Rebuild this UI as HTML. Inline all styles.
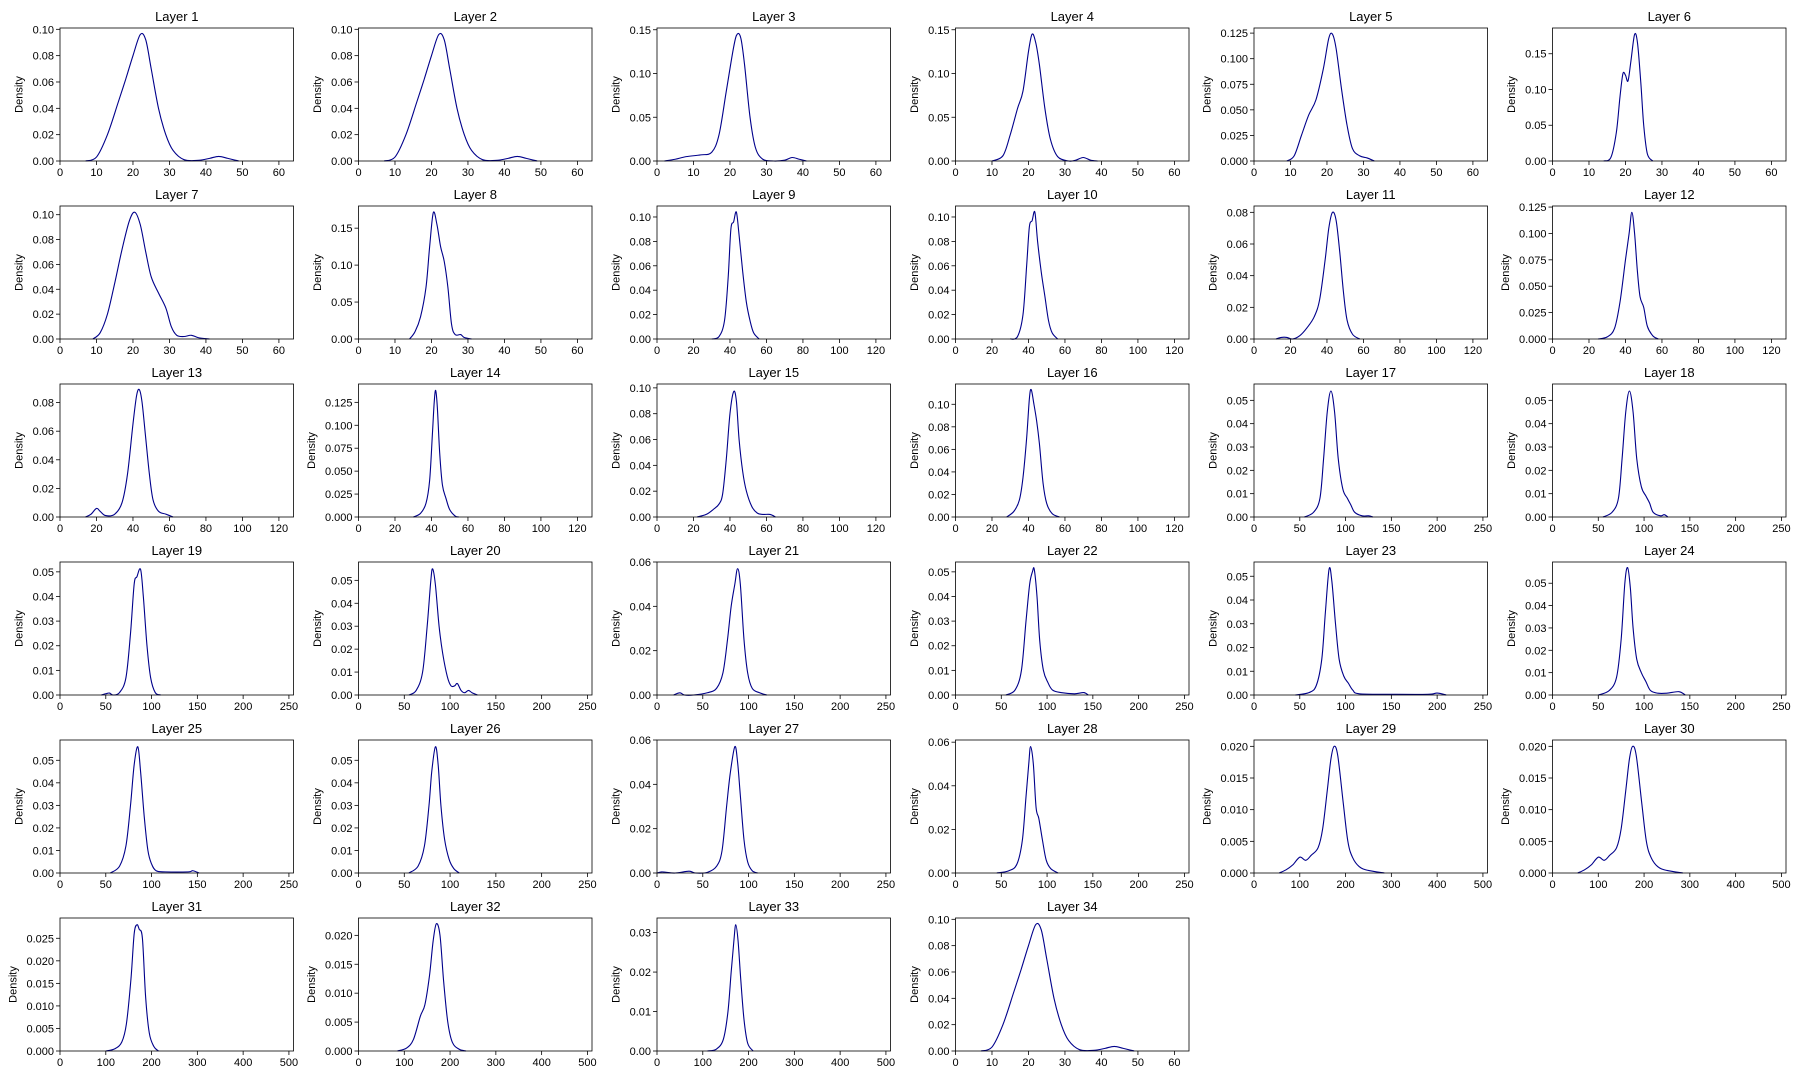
<!DOCTYPE html>
<html><head><meta charset="utf-8">
<style>
html,body{margin:0;padding:0;background:#fff;}
svg{display:block;font-family:"Liberation Sans",sans-serif;}
</style></head>
<body>
<svg id="chart" width="1800" height="1080" viewBox="0 0 1800 1080" xmlns="http://www.w3.org/2000/svg"></svg>
<script>
// ---- data: per-layer KDE curves (x value, density) ----
const layerTitles = ["Layer 1","Layer 2","Layer 3","Layer 4","Layer 5","Layer 6","Layer 7","Layer 8","Layer 9","Layer 10","Layer 11","Layer 12","Layer 13","Layer 14","Layer 15","Layer 16","Layer 17","Layer 18","Layer 19","Layer 20","Layer 21","Layer 22","Layer 23","Layer 24","Layer 25","Layer 26","Layer 27","Layer 28","Layer 29","Layer 30","Layer 31","Layer 32","Layer 33","Layer 34"];
const xMaxes = [64,64,64,64,64,64,64,64,128,128,128,128,128,128,128,128,255,255,255,255,255,255,255,255,255,255,255,255,510,510,510,510,510,64];
const xTickSteps = [10,10,10,10,10,10,10,10,20,20,20,20,20,20,20,20,50,50,50,50,50,50,50,50,50,50,50,50,100,100,100,100,100,10];
const yMaxes = [0.101,0.101,0.152,0.152,0.13,0.186,0.107,0.18,0.109,0.109,0.084,0.126,0.093,0.145,0.103,0.118,0.057,0.057,0.054,0.058,0.06,0.054,0.056,0.0595,0.059,0.059,0.06,0.061,0.021,0.021,0.0295,0.023,0.0337,0.101];
const yTickSteps = [0.02,0.02,0.05,0.05,0.025,0.05,0.02,0.05,0.02,0.02,0.02,0.025,0.02,0.025,0.02,0.02,0.01,0.01,0.01,0.01,0.02,0.01,0.01,0.01,0.01,0.01,0.02,0.02,0.005,0.005,0.005,0.005,0.01,0.02];
const yTickDecimals = [2,2,2,2,3,2,2,2,2,2,2,3,2,3,2,2,2,2,2,2,2,2,2,2,2,2,2,2,3,3,3,3,2,2];
const curveL1 = [[7,0],[10,0.003],[13,0.02],[16,0.045],[18,0.062],[20,0.08],[22,0.096],[23.5,0.092],[25,0.07],[27,0.04],[29,0.02],[31,0.008],[34,0.001],[38,0.0005],[41,0.002],[43.5,0.0035],[46,0.002],[49,0]];
const curveL3 = [[2,0],[5,0.002],[8,0.005],[12,0.007],[15,0.01],[17,0.03],[19,0.08],[21,0.13],[22,0.145],[23,0.14],[24,0.11],[25.5,0.05],[27,0.015],[29,0.002],[32,0],[35,0.001],[37,0.004],[39,0.002],[41,0]];
const curveL4 = [[10,0],[13,0.006],[15,0.03],[17,0.06],[18.5,0.08],[20,0.125],[21,0.145],[22,0.135],[23,0.11],[24.5,0.06],[26,0.025],[28,0.005],[31,0],[33,0.001],[35,0.004],[37,0.001],[39,0]];
const curveL5 = [[9,0],[11,0.005],[13,0.025],[15,0.045],[17,0.06],[19,0.09],[20.5,0.12],[21.5,0.124],[22.5,0.11],[24,0.07],[25.5,0.035],[27,0.012],[29,0.005],[31,0.003],[33,0]];
const curveL6 = [[14,0],[16,0.005],[17.5,0.04],[18.5,0.09],[19.3,0.122],[20,0.12],[20.7,0.112],[21.5,0.14],[22.5,0.177],[23.3,0.165],[24.2,0.11],[25,0.05],[26,0.01],[27.5,0]];
const curveL7 = [[9,0],[11,0.005],[13,0.02],[15,0.045],[17,0.072],[19,0.095],[20.5,0.102],[22,0.092],[23.5,0.07],[25,0.05],[27,0.037],[29,0.025],[30.5,0.01],[32,0.003],[34,0.002],[36,0.003],[38,0.001],[41,0]];
const curveL8 = [[14,0],[15.5,0.01],[17,0.03],[18.5,0.07],[19.5,0.125],[20.5,0.171],[21.5,0.155],[22.5,0.125],[23.5,0.105],[24.5,0.07],[25.5,0.02],[26.5,0.006],[28,0.006],[29,0.002],[31,0]];
const curveL9 = [[30,0],[34,0.002],[37,0.015],[39,0.05],[40.5,0.09],[42,0.096],[43.5,0.104],[45,0.085],[47,0.055],[49,0.03],[51,0.015],[53,0.005],[56,0]];
const curveL10 = [[30,0],[34,0.002],[37,0.02],[39,0.06],[40.5,0.092],[42,0.097],[43.5,0.104],[45,0.08],[47,0.055],[49,0.035],[51,0.015],[53,0.005],[56,0]];
const curveL11 = [[12,0],[15,0.001],[18,0.001],[21,0],[25,0.002],[29,0.007],[33,0.014],[36,0.025],[39,0.05],[41,0.07],[43,0.08],[45,0.075],[47,0.055],[49,0.03],[51,0.012],[54,0.003],[58,0]];
const curveL12 = [[25,0],[30,0.002],[34,0.01],[37,0.035],[40,0.075],[42,0.1],[43.5,0.12],[45,0.1],[46.5,0.065],[48,0.04],[50,0.03],[52,0.012],[55,0.003],[58,0]];
const curveL13 = [[14,0],[17,0.002],[20,0.006],[22,0.004],[25,0.001],[30,0.002],[34,0.01],[37,0.03],[40,0.065],[42,0.085],[43.5,0.089],[45,0.08],[47,0.055],[49,0.03],[51,0.012],[54,0.004],[58,0.002],[62,0]];
const curveL14 = [[30,0],[34,0.004],[37,0.015],[39,0.04],[40.5,0.09],[41.5,0.125],[42.3,0.138],[43.2,0.12],[44.5,0.07],[46,0.035],[48,0.02],[50,0.008],[53,0.001],[55,0]];
const curveL15 = [[22,0],[27,0.002],[31,0.006],[34,0.01],[36,0.018],[38,0.045],[40,0.08],[42,0.097],[43.5,0.09],[45,0.06],[47,0.035],[49,0.02],[52,0.008],[55,0.003],[58,0.002],[62,0.002],[65,0]];
const curveL16 = [[28,0],[32,0.005],[35,0.015],[37,0.035],[39,0.07],[40.5,0.105],[41.5,0.113],[43,0.1],[44.5,0.085],[46,0.065],[48,0.03],[50,0.012],[53,0.003],[57,0]];
const curveL17 = [[55,0],[65,0.002],[72,0.008],[76,0.025],[80,0.045],[84,0.054],[88,0.045],[92,0.025],[97,0.012],[102,0.008],[106,0.005],[110,0.002],[118,0.0005],[125,0.0005],[130,0]];
const curveL18 = [[55,0],[65,0.002],[72,0.008],[76,0.025],[80,0.045],[84,0.054],[88,0.045],[92,0.025],[97,0.013],[102,0.009],[106,0.006],[110,0.002],[118,0.0005],[122,0.001],[126,0]];
const curveL19 = [[45,0],[50,0.0005],[54,0.0008],[58,0],[65,0.001],[72,0.007],[77,0.025],[81,0.045],[84,0.048],[88,0.051],[91,0.04],[95,0.02],[99,0.007],[104,0.001],[110,0]];
const curveL20 = [[55,0],[63,0.002],[70,0.01],[75,0.03],[79,0.05],[81,0.055],[84,0.048],[88,0.03],[92,0.018],[97,0.008],[101,0.004],[105,0.004],[108,0.005],[112,0.002],[116,0.001],[120,0.002],[124,0.001],[130,0]];
const curveL21 = [[18,0],[25,0.001],[30,0],[40,0],[55,0.001],[65,0.003],[72,0.01],[77,0.025],[81,0.04],[85,0.05],[88,0.057],[91,0.05],[95,0.025],[99,0.01],[104,0.003],[112,0.001],[120,0]];
const curveL22 = [[55,0],[65,0.002],[72,0.01],[77,0.03],[81,0.045],[84,0.05],[86,0.051],[89,0.04],[92,0.022],[96,0.01],[101,0.005],[106,0.002],[115,0.001],[130,0.0005],[140,0.001],[145,0]];
const curveL23 = [[45,0],[60,0.001],[68,0.004],[74,0.015],[78,0.035],[82,0.053],[85,0.048],[89,0.03],[93,0.015],[98,0.008],[103,0.005],[108,0.002],[115,0.0005],[150,0.0003],[190,0.0003],[200,0.0008],[210,0]];
const curveL24 = [[50,0],[62,0.002],[70,0.008],[75,0.025],[79,0.05],[82,0.057],[85,0.048],[88,0.03],[92,0.016],[97,0.01],[102,0.006],[107,0.002],[115,0.0008],[125,0.0008],[138,0.0015],[145,0]];
const curveL25 = [[55,0],[65,0.003],[72,0.012],[77,0.03],[81,0.048],[85,0.056],[88,0.045],[92,0.025],[96,0.01],[100,0.004],[105,0.001],[115,0.0005],[140,0.0005],[145,0.001],[152,0]];
const curveL26 = [[55,0],[65,0.003],[72,0.012],[77,0.03],[80,0.045],[84,0.056],[87,0.048],[90,0.03],[94,0.015],[99,0.006],[104,0.002],[110,0]];
const curveL27 = [[0,0],[5,0.0005],[10,0.0003],[20,0],[35,0.0008],[42,0],[55,0.0003],[65,0.003],[71,0.01],[76,0.03],[80,0.045],[85,0.057],[88,0.05],[91,0.035],[95,0.015],[99,0.005],[104,0.001],[110,0]];
const curveL28 = [[45,0],[58,0.001],[67,0.004],[73,0.015],[77,0.035],[80,0.05],[82,0.058],[85,0.05],[88,0.03],[91,0.025],[95,0.015],[99,0.006],[104,0.002],[112,0]];
const curveL29 = [[55,0],[70,0.0005],[85,0.0013],[100,0.0025],[113,0.002],[125,0.0028],[140,0.004],[150,0.007],[160,0.013],[168,0.018],[175,0.02],[183,0.0185],[195,0.011],[205,0.005],[215,0.0025],[230,0.001],[250,0.0004],[285,0]];
const curveL31 = [[100,0],[120,0.0005],[135,0.002],[145,0.006],[155,0.016],[162,0.026],[168,0.028],[173,0.027],[180,0.025],[187,0.012],[195,0.004],[205,0.001],[215,0]];
const curveL32 = [[85,0],[105,0.0005],[120,0.002],[135,0.006],[145,0.008],[155,0.013],[163,0.019],[170,0.022],[178,0.02],[186,0.012],[195,0.005],[205,0.0015],[220,0.0003],[235,0]];
const curveL33 = [[110,0],[130,0.0005],[145,0.003],[155,0.01],[162,0.02],[168,0.028],[172,0.032],[177,0.028],[183,0.018],[190,0.008],[198,0.002],[210,0]];
const curves = [curveL1,curveL1,curveL3,curveL4,curveL5,curveL6,curveL7,curveL8,curveL9,curveL10,curveL11,curveL12,curveL13,curveL14,curveL15,curveL16,curveL17,curveL18,curveL19,curveL20,curveL21,curveL22,curveL23,curveL24,curveL25,curveL26,curveL27,curveL28,curveL29,curveL29,curveL31,curveL32,curveL33,curveL1];

// ---- layout ----
const svg = document.getElementById('chart');
const NS = 'http://www.w3.org/2000/svg';
const L0 = 60, T0 = 28, PW = 233.5, PH = 133, DX = 298.5, DY = 178;
function mk(tag, attrs, parent){const e=document.createElementNS(NS,tag);for(const k in attrs)e.setAttribute(k,attrs[k]);(parent||svg).appendChild(e);return e;}

function smoothPath(pts){
  if(pts.length<2) return '';
  let d='M'+pts[0][0].toFixed(2)+','+pts[0][1].toFixed(2);
  for(let i=0;i<pts.length-1;i++){
    const p0=pts[Math.max(0,i-1)],p1=pts[i],p2=pts[i+1],p3=pts[Math.min(pts.length-1,i+2)];
    const c1x=p1[0]+(p2[0]-p0[0])/6,c1y=p1[1]+(p2[1]-p0[1])/6;
    const c2x=p2[0]-(p3[0]-p1[0])/6,c2y=p2[1]-(p3[1]-p1[1])/6;
    d+=' C'+c1x.toFixed(2)+','+c1y.toFixed(2)+' '+c2x.toFixed(2)+','+c2y.toFixed(2)+' '+p2[0].toFixed(2)+','+p2[1].toFixed(2);
  }
  return d;
}

for(let i=0;i<layerTitles.length;i++){
  const col=i%6,row=Math.floor(i/6);
  const left=L0+col*DX, top=T0+row*DY, bottom=top+PH;
  const xScale=v=>left+v/xMaxes[i]*PW;
  const yScale=v=>bottom-v/yMaxes[i]*PH;
  const g=mk('g',{});
  
  
  const title=mk('text',{x:left+PW/2,y:top-7,'text-anchor':'middle','font-size':'13','fill':'#000'},g);
  
  
  title.textContent=layerTitles[i];
  for(let v=0;v<=xMaxes[i]+1e-9;v+=xTickSteps[i]){
    const x=xScale(v);
    mk('line',{x1:x,y1:bottom,x2:x,y2:bottom+4,stroke:'#000','stroke-width':'0.8'},g);
    const t=mk('text',{x:x,y:bottom+15,'text-anchor':'middle','font-size':'11','fill':'#000'},g);
    
    
    t.textContent=String(v);
  }
  const dec=yTickDecimals[i];
  const n=Math.floor(yMaxes[i]/yTickSteps[i]+1e-6);
  for(let k=0;k<=n;k++){
    const v=k*yTickSteps[i], y=yScale(v);
    mk('line',{x1:left-4,y1:y,x2:left,y2:y,stroke:'#000','stroke-width':'0.8'},g);
    const t=mk('text',{x:left-6,y:y+4,'text-anchor':'end','font-size':'11','fill':'#000'},g);
    
    
    t.textContent=v.toFixed(dec);
  }
  const labW=(dec+1)*6.12+3.06;
  const lx=left-6-labW-10;
  const yl=mk('text',{x:lx,y:top+PH/2,'text-anchor':'middle','font-size':'11','fill':'#000',transform:'rotate(-90 '+lx+' '+(top+PH/2)+')'},g);
  
  
  yl.textContent='Density';
  const pts=curves[i].map(p=>[xScale(p[0]),yScale(p[1])]);
  const path=mk('path',{d:smoothPath(pts),fill:'none',stroke:'#00008b','stroke-width':'1.1'},g);
  
  
  const frame=mk('rect',{x:left,y:top,width:PW,height:PH,fill:'none',stroke:'#000','stroke-width':'0.8'},g);
  
  
}
</script>
</body></html>
